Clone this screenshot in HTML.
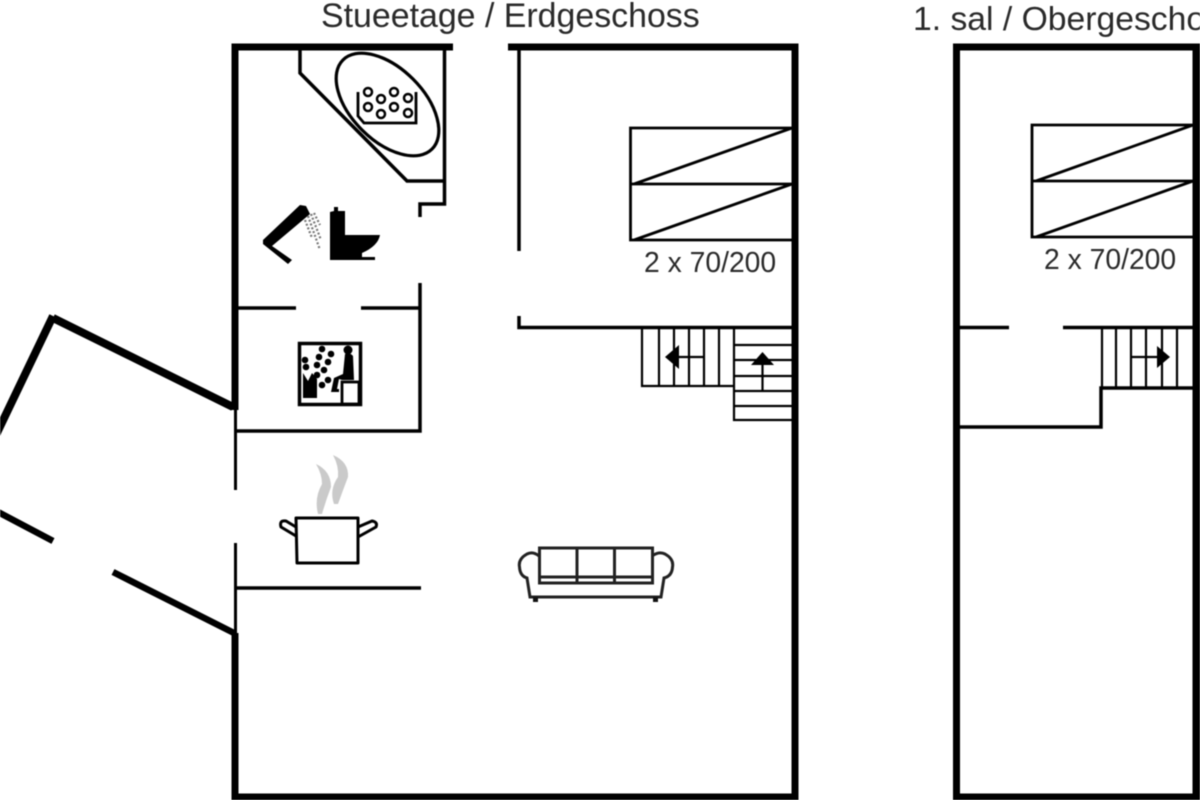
<!DOCTYPE html>
<html>
<head>
<meta charset="utf-8">
<style>
html,body{margin:0;padding:0;background:#fff;width:1200px;height:800px;overflow:hidden}
svg{display:block;filter:blur(.5px)}
text{font-family:"Liberation Sans",sans-serif;fill:#2a2a2a}
</style>
</head>
<body>
<svg width="1200" height="800" viewBox="0 0 1200 800" xmlns="http://www.w3.org/2000/svg">
<rect width="1200" height="800" fill="#fff"/>
<text x="321" y="27" font-size="33.9">Stueetage / Erdgeschoss</text>
<text x="913" y="30" font-size="33.7">1. sal / Obergeschoss</text>

<!-- outer walls -->
<g fill="none" stroke="#000" stroke-width="7">
<path d="M453 47H235V410"/>
<path d="M508 47H795V800"/>
<path d="M235 633V797H795"/>
<path d="M53 318L233 407" stroke-width="8"/>
<path d="M53 316L-5 437" stroke-width="8"/>
<path d="M1200 47H956.500V797H1200"/>
<path d="M1196.500 47V800" stroke-width="8"/>
</g>
<g fill="none" stroke="#000" stroke-width="6.500">
<path d="M-4 511L53 541"/>
<path d="M113 572L234 633"/>
</g>

<!-- thin walls -->
<g fill="none" stroke="#000" stroke-width="3.500">
<path d="M235.500 408V490M235.500 543V634" stroke-width="3"/>
<path d="M235 308H296M361 308H420"/>
<path d="M420 283V431H235"/>
<path d="M235 588H421"/>
<path d="M444.500 50V204H420V217"/>
<path d="M300 50V73L407 181H444"/>
<path d="M519 50V251"/>
<path d="M519 316V327.500H792"/>
<path d="M957 327.500H1009M1063 327.500H1193"/>
<path d="M957 427H1101V388H1193"/>
</g>

<!-- bath tub -->
<g fill="none" stroke="#000">
<ellipse cx="387.500" cy="104.500" rx="63" ry="36" transform="rotate(45 387.500 104.500)" stroke-width="3.200"/>
<path d="M358 92V116L364 123H416V92" stroke-width="2.800"/>
<g stroke-width="2.500">
<circle cx="368" cy="92" r="4"/><circle cx="394" cy="92" r="4"/>
<circle cx="381" cy="99" r="4"/><circle cx="408" cy="98" r="4"/>
<circle cx="368" cy="107" r="4"/><circle cx="394" cy="107" r="4"/>
<circle cx="381" cy="114" r="4"/><circle cx="408" cy="113" r="4"/>
</g>
</g>

<!-- shower -->
<path d="M263 240L300 205L306 206L310 214L272 246L292 260L288 264L263 244Z" fill="#000"/>
<g stroke="#777" stroke-width="2.200" stroke-dasharray="2 2" fill="none">
<path d="M308 216L320 250"/>
<path d="M311 214L321 240"/>
<path d="M314 213L320 225"/>
<path d="M305 220L312 238"/>
</g>

<!-- toilet -->
<path d="M330 212L334 211V207H338V211H345V235H380Q378 246 362 253V257H375V260H330Z" fill="#000"/>

<!-- sauna -->
<g>
<rect x="299.500" y="343.500" width="61" height="61" fill="#fff" stroke="#000" stroke-width="3.500"/>
<rect x="342" y="382" width="17" height="22" fill="#fff" stroke="#000" stroke-width="2.800"/>
<path d="M303 373L308 381L312 373L317 379V398H303Z" fill="#000"/>
<path d="M345 354Q350 352 353 356L354 380H342L339 379L337 389H339V392H331L334 378L343 374Z" fill="#000"/>
<circle cx="348" cy="350" r="4.500" fill="#000"/>
<g fill="#000">
<circle cx="305" cy="360" r="3.300"/><circle cx="306" cy="367" r="3.300"/>
<circle cx="322" cy="349" r="3.300"/><circle cx="319" cy="357" r="3.300"/><circle cx="331" cy="354" r="3.300"/>
<circle cx="328" cy="362" r="3.300"/><circle cx="317" cy="365" r="3.300"/><circle cx="324" cy="370" r="3.300"/>
<circle cx="317" cy="375" r="3.300"/><circle cx="328" cy="380" r="3.300"/><circle cx="322" cy="385" r="3.300"/>
</g>
</g>

<!-- pot -->
<g fill="none" stroke="#000" stroke-width="3" stroke-linejoin="round">
<path d="M296 518H358V563H297Z"/>
<path d="M296 527L286 521Q279 520 281 527L296 536"/>
<path d="M358 527L372 521Q378 522 376 527L358 537"/>
</g>
<g fill="#cacaca">
<path d="M316 464Q331 471 331 487Q326 500 322 514L318 514Q314 498 322 484Q322 474 316 464Z"/>
<path d="M333 455Q349 462 348 477Q343 490 338 504L334 504Q329 490 338 477Q339 466 333 455Z"/>
</g>

<!-- beds -->
<g fill="none" stroke="#000" stroke-width="2.800">
<path d="M792 128H630.500V240H792M631 184H792M634 184L792 128M634 240L792 184"/>
<path d="M1193 125H1032V237H1193M1032 181H1193M1036 181L1193 125M1036 237L1193 181"/>
</g>
<text x="644" y="272" font-size="28.300">2 x 70/200</text>
<text x="1044" y="269" font-size="28.300">2 x 70/200</text>

<!-- stairs ground floor -->
<g fill="none" stroke="#000" stroke-width="2.200">
<path d="M642 328V386H734M659 328V386M674 328V386M689 328V386M704 328V386M719 328V386M734 328V420H792"/>
<path d="M734 345H792M734 360H792M734 376H792M734 391H792M734 406H792"/>
<path d="M704 357H676M762.500 391V362"/>
</g>
<path d="M665 357L679 345V369Z" fill="#000"/>
<path d="M762.500 352L774 365H751Z" fill="#000"/>

<!-- stairs upper floor -->
<g fill="none" stroke="#000" stroke-width="2.200">
<path d="M1102 328V388M1116 328V388M1131 328V388M1146 328V388M1162 328V388M1177 328V388"/>
<path d="M1131 357H1160"/>
</g>
<path d="M1170 357L1157 346V368Z" fill="#000"/>

<!-- sofa -->
<g fill="none" stroke="#222" stroke-width="3">
<rect x="539.500" y="548" width="113" height="35"/>
<path d="M577 548V583M614.500 548V583M539.500 577H652.500"/>
<path d="M539 556Q533 551 527 554Q518 559 519.500 567Q520 576 527 578L530 597H661L664 578Q672 576 672.500 567Q674 559 665 554Q659 551 652 556"/>
</g>
<path d="M533 597h5v5h-5zM653 597h5v5h-5z" fill="#111"/>
</svg>
</body>
</html>
